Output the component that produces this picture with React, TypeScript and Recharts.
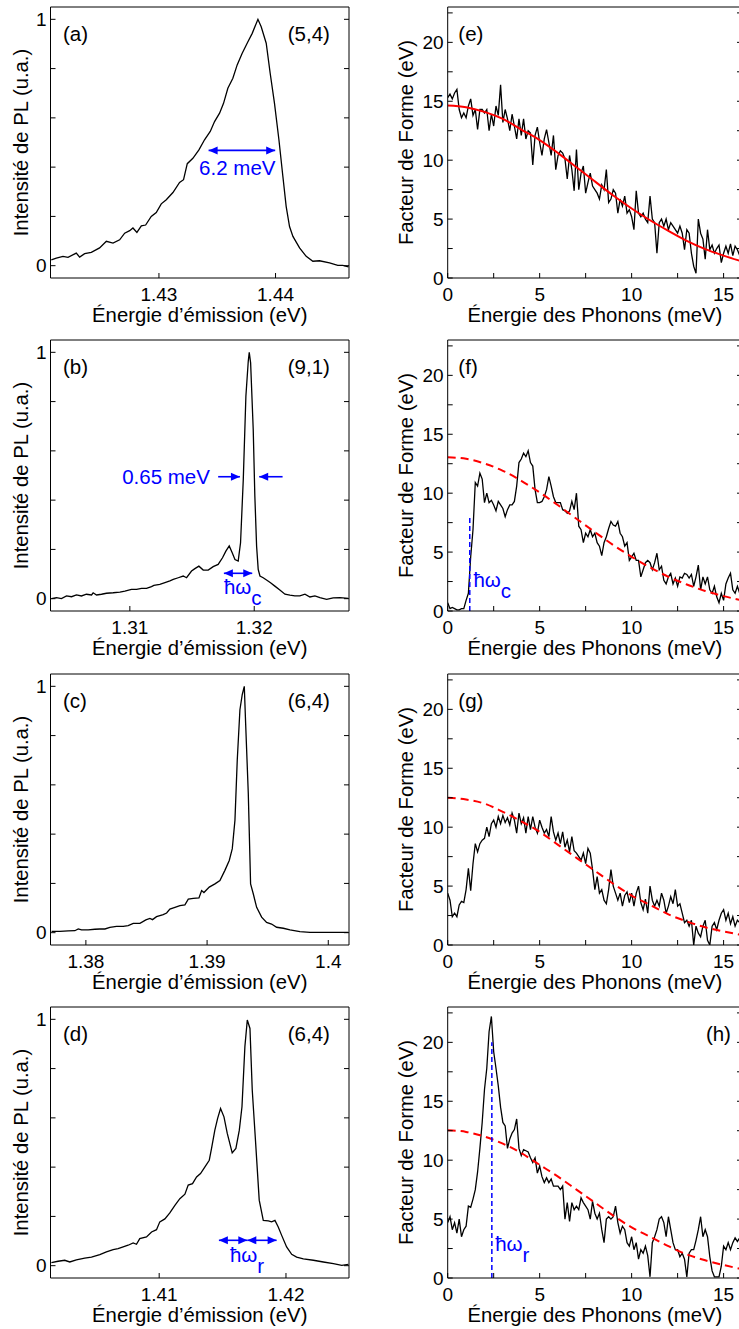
import React from 'react';
import { LineChart, Line, XAxis, YAxis, ReferenceLine, ReferenceDot } from 'recharts';

const FONT = '"Liberation Sans", Arial, Helvetica, sans-serif';
const BLUE = '#0000ff';
const RED = '#ff0000';

// ---- PL spectra (left column) ----
const energyA = [1.42077, 1.4212, 1.42177, 1.4222, 1.42291, 1.4232, 1.42363, 1.4242, 1.42491, 1.42549, 1.42606, 1.42663, 1.42706, 1.42749, 1.42777, 1.42811, 1.42849, 1.42886, 1.42934, 1.42977, 1.4302, 1.43063, 1.4312, 1.43177, 1.43211, 1.43243, 1.43291, 1.43343, 1.43391, 1.4344, 1.43477, 1.4352, 1.43554, 1.43591, 1.43634, 1.43671, 1.43714, 1.43763, 1.438, 1.43849, 1.43877, 1.4392, 1.43954, 1.43991, 1.44029, 1.44063, 1.44091, 1.4412, 1.44149, 1.44206, 1.44263, 1.4432, 1.44377, 1.44463, 1.44534, 1.44577, 1.44626];
const intensityA = [0.024, 0.031, 0.038, 0.034, 0.051, 0.035, 0.049, 0.054, 0.072, 0.099, 0.092, 0.105, 0.132, 0.142, 0.153, 0.135, 0.162, 0.165, 0.2, 0.216, 0.251, 0.268, 0.297, 0.338, 0.349, 0.414, 0.436, 0.47, 0.511, 0.545, 0.585, 0.619, 0.659, 0.72, 0.761, 0.815, 0.862, 0.909, 0.943, 1.0, 0.97, 0.903, 0.781, 0.659, 0.511, 0.362, 0.241, 0.159, 0.119, 0.072, 0.038, 0.018, 0.02, 0.011, 0.001, 0.001, -0.005];

const energyB = [1.3037, 1.3041, 1.3045, 1.30491, 1.30531, 1.30571, 1.30611, 1.30651, 1.30692, 1.30705, 1.30732, 1.30772, 1.30812, 1.30866, 1.3092, 1.3096, 1.31013, 1.31054, 1.31094, 1.31134, 1.31174, 1.31193, 1.31241, 1.31282, 1.31322, 1.31349, 1.31389, 1.31429, 1.31456, 1.31496, 1.31523, 1.31555, 1.3159, 1.3163, 1.3167, 1.3171, 1.31745, 1.31772, 1.31799, 1.31823, 1.31845, 1.31871, 1.3189, 1.31912, 1.31933, 1.31952, 1.3196, 1.31971, 1.31992, 1.32005, 1.32019, 1.32032, 1.32046, 1.32072, 1.32099, 1.32131, 1.32166, 1.32206, 1.32247, 1.32287, 1.32327, 1.32367, 1.32408, 1.32448, 1.32488, 1.32528, 1.32582, 1.32635, 1.32689, 1.32756];
const intensityB = [0, 0.004, 0, 0.011, 0.008, 0.015, 0.011, 0.018, 0.015, 0.024, 0.015, 0.018, 0.022, 0.024, 0.027, 0.031, 0.038, 0.038, 0.042, 0.042, 0.049, 0.054, 0.058, 0.065, 0.072, 0.078, 0.085, 0.092, 0.085, 0.112, 0.122, 0.132, 0.116, 0.116, 0.13, 0.139, 0.166, 0.193, 0.214, 0.186, 0.159, 0.153, 0.227, 0.484, 0.822, 0.964, 1.0, 0.957, 0.686, 0.416, 0.214, 0.119, 0.092, 0.085, 0.076, 0.065, 0.051, 0.035, 0.018, 0.014, 0.011, 0.011, 0.018, 0.007, 0.011, 0.004, -0.003, 0.003, 0.004, 0.001];

const energyC = [1.37717, 1.37785, 1.37854, 1.37909, 1.37937, 1.37964, 1.38019, 1.38074, 1.38116, 1.38157, 1.38198, 1.38253, 1.38308, 1.38349, 1.38391, 1.38446, 1.38495, 1.38528, 1.3855, 1.38583, 1.38638, 1.38666, 1.38693, 1.38735, 1.38776, 1.38817, 1.38845, 1.38886, 1.38933, 1.38955, 1.38974, 1.39018, 1.39065, 1.39106, 1.39147, 1.39183, 1.39208, 1.3923, 1.39249, 1.39271, 1.3929, 1.39307, 1.39318, 1.3934, 1.39359, 1.39381, 1.39409, 1.3945, 1.39491, 1.39532, 1.39574, 1.39629, 1.39684, 1.39766, 1.39849, 1.39931, 1.40041, 1.40165];
const intensityC = [0.005, 0.005, 0.007, 0.008, 0.015, 0.011, 0.011, 0.014, 0.015, 0.015, 0.022, 0.026, 0.026, 0.029, 0.038, 0.038, 0.052, 0.058, 0.053, 0.065, 0.073, 0.08, 0.096, 0.103, 0.11, 0.113, 0.136, 0.139, 0.141, 0.171, 0.163, 0.185, 0.198, 0.212, 0.253, 0.293, 0.341, 0.457, 0.701, 0.905, 0.966, 1.0, 0.851, 0.565, 0.198, 0.158, 0.103, 0.063, 0.042, 0.035, 0.022, 0.018, 0.011, 0.004, 0.001, 0.001, 0.001, 0.001];

const energyD = [1.4015, 1.40203, 1.40255, 1.40295, 1.40347, 1.40413, 1.40466, 1.40532, 1.40584, 1.40637, 1.40676, 1.40716, 1.40755, 1.40795, 1.40821, 1.40847, 1.409, 1.4094, 1.40979, 1.41005, 1.41045, 1.41084, 1.41124, 1.41163, 1.41203, 1.41229, 1.41263, 1.41295, 1.41326, 1.41361, 1.41395, 1.41413, 1.41439, 1.41461, 1.41484, 1.41511, 1.41537, 1.41576, 1.41605, 1.41632, 1.41653, 1.41676, 1.41695, 1.41716, 1.41734, 1.41761, 1.41789, 1.41821, 1.41861, 1.41887, 1.41913, 1.41939, 1.41966, 1.42005, 1.42045, 1.42084, 1.42137, 1.42216, 1.42295, 1.42374, 1.4244, 1.42492];
const intensityD = [0.012, 0.018, 0.022, 0.015, 0.024, 0.031, 0.035, 0.045, 0.056, 0.065, 0.069, 0.076, 0.083, 0.092, 0.087, 0.11, 0.117, 0.137, 0.146, 0.178, 0.19, 0.214, 0.245, 0.272, 0.29, 0.327, 0.333, 0.36, 0.374, 0.401, 0.428, 0.476, 0.55, 0.598, 0.638, 0.604, 0.537, 0.458, 0.476, 0.55, 0.645, 0.889, 0.997, 0.963, 0.713, 0.496, 0.266, 0.184, 0.182, 0.178, 0.184, 0.157, 0.123, 0.076, 0.046, 0.035, 0.028, 0.022, 0.015, 0.008, 0.001, 0.005];

// ---- form factors (right column) ----
const phononEnergy = [
  0, 0.125, 0.25, 0.375, 0.5, 0.625, 0.75, 0.875,
  1, 1.125, 1.25, 1.375, 1.5, 1.625, 1.75, 1.875,
  2, 2.125, 2.25, 2.375, 2.5, 2.625, 2.75, 2.875,
  3, 3.125, 3.25, 3.375, 3.5, 3.625, 3.75, 3.875,
  4, 4.125, 4.25, 4.375, 4.5, 4.625, 4.75, 4.875,
  5, 5.125, 5.25, 5.375, 5.5, 5.625, 5.75, 5.875,
  6, 6.125, 6.25, 6.375, 6.5, 6.625, 6.75, 6.875,
  7, 7.125, 7.25, 7.375, 7.5, 7.625, 7.75, 7.875,
  8, 8.125, 8.25, 8.375, 8.5, 8.625, 8.75, 8.875,
  9, 9.125, 9.25, 9.375, 9.5, 9.625, 9.75, 9.875,
  10, 10.125, 10.25, 10.375, 10.5, 10.625, 10.75, 10.875,
  11, 11.125, 11.25, 11.375, 11.5, 11.625, 11.75, 11.875,
  12, 12.125, 12.25, 12.375, 12.5, 12.625, 12.75, 12.875,
  13, 13.125, 13.25, 13.375, 13.5, 13.625, 13.75, 13.875,
  14, 14.125, 14.25, 14.375, 14.5, 14.625, 14.75, 14.875,
  15, 15.125, 15.25, 15.375, 15.5, 15.625, 15.75, 15.875,
  16,
];
const formE = [
  15.3, 15.6, 15.2, 15.7, 16.0, 14.3, 13.6, 14.0,
  13.6, 14.6, 15.2, 13.8, 14.3, 12.6, 14.3, 14.3,
  14.0, 14.3, 12.5, 13.9, 12.9, 14.6, 13.8, 16.4,
  13.2, 14.3, 13.5, 12.5, 13.9, 12.9, 11.8, 13.5,
  12.1, 13.5, 11.8, 12.5, 12.3, 9.6, 12.1, 12.8,
  11.5, 10.4, 11.8, 12.6, 11.5, 10.4, 12.1, 9.2,
  10.4, 10.8, 10.6, 10.1, 8.4, 10.4, 9.2, 7.4,
  10.9, 7.5, 8.9, 9.5, 7.2, 8.1, 8.9, 7.8,
  7.5, 7.2, 6.7, 7.9, 7.5, 9.2, 6.4, 6.7,
  7.5, 7.2, 5.5, 6.7, 6.1, 6.95, 5.5, 5.8,
  5.2, 4.1, 7.4, 5.5, 5.2, 5.5, 5.0, 4.7,
  6.95, 5.0, 4.7, 2.1, 4.7, 5.0, 4.4, 5.0,
  4.1, 4.7, 4.4, 4.1, 3.8, 4.4, 3.8, 2.4,
  4.1, 3.8, 2.1, 1.0, 0.4, 5.0, 3.8, 3.3,
  1.6, 4.1, 2.4, 2.8, 2.1, 2.5, 2.8, 1.3,
  2.1, 2.7, 2.1, 2.9, 1.9, 2.7, 2.4, 1.9,
  2.0,
];
const formF = [
  0.7, 0.2, 0.3, 0.2, 0.1, 0.1, 0.2, 0.2,
  0.9, 1.5, 4.6, 6.9, 10.9, 10.6, 11.7, 11.2,
  9.2, 10.0, 9.2, 9.4, 9.0, 8.5, 9.3, 9.0,
  8.7, 8.0, 8.6, 9.0, 9.0, 9.3, 10.6, 12.6,
  12.9, 13.4, 13.1, 13.6, 12.6, 12.3, 10.3, 9.2,
  9.2, 9.3, 9.7, 10.3, 11.4, 10.6, 9.7, 9.2,
  9.2, 9.2, 8.6, 8.5, 8.3, 8.5, 9.3, 8.6,
  10.0, 7.2, 6.9, 5.8, 6.6, 6.3, 6.9, 6.3,
  6.6, 5.8, 5.5, 4.7, 5.8, 6.3, 7.0, 7.6,
  7.3, 7.2, 7.6, 6.6, 6.3, 5.5, 5.8, 4.3,
  4.6, 4.9, 4.3, 4.3, 2.9, 3.5, 4.1, 4.3,
  4.1, 3.5, 4.1, 4.9, 3.5, 3.8, 2.6, 2.3,
  2.9, 3.2, 2.3, 2.8, 2.1, 2.9, 2.8, 3.2,
  3.1, 2.8, 3.1, 2.1, 2.9, 3.9, 1.8, 2.9,
  2.3, 2.9, 1.8, 1.5, 2.1, 1.2, 0.7, 1.5,
  0.9, 2.3, 2.8, 3.2, 1.8, 1.5, 2.1, 1.5,
  1.8,
];
const formG = [
  4.4, 3.8, 2.4, 2.7, 2.4, 3.4, 3.7, 3.6,
  4.7, 6.5, 4.6, 6.9, 8.6, 7.9, 8.6, 8.9,
  9.05, 10.0, 9.2, 10.3, 10.6, 10.0, 10.9, 10.3,
  11.0, 10.4, 10.8, 10.2, 11.2, 10.6, 9.5, 11.2,
  10.3, 10.8, 9.5, 10.9, 9.8, 10.9, 10.0, 9.5,
  10.6, 10.0, 9.5, 9.8, 9.2, 10.9, 9.6, 8.9,
  9.5, 8.6, 9.6, 8.3, 8.9, 7.9, 9.2, 8.0,
  7.8, 7.5, 7.2, 7.8, 6.9, 8.2, 7.8, 6.4,
  4.7, 5.8, 4.4, 4.7, 3.8, 3.5, 4.7, 6.4,
  5.0, 4.4, 3.8, 4.4, 3.3, 4.2, 4.5, 3.6,
  4.4, 3.3, 4.4, 5.0, 3.6, 3.0, 3.9, 2.7,
  5.0, 3.8, 3.3, 3.8, 3.3, 4.4, 3.8, 2.7,
  3.3, 4.1, 3.5, 4.7, 3.3, 3.5, 2.7, 1.9,
  2.1, 1.6, 2.1, 0.0, 1.6, 1.0, 0.7, 1.6,
  2.1, 0.4, 0.0, 1.6, 1.9, 1.3, 2.1, 2.7,
  3.0, 2.1, 2.7, 1.8, 2.4, 1.6, 2.1, 1.9,
  1.8,
];
const formH = [
  4.7, 5.2, 4.1, 4.7, 3.8, 5.0, 3.5, 4.1,
  4.4, 6.1, 6.0, 6.7, 7.5, 9.0, 11.0, 13.2,
  16.0, 17.8, 20.9, 22.2, 19.2, 17.8, 16.3, 14.5,
  13.2, 12.9, 11.0, 11.8, 12.3, 12.6, 13.5, 11.0,
  10.4, 10.9, 10.8, 10.7, 10.2, 9.8, 10.2, 8.9,
  9.5, 8.6, 8.1, 8.5, 8.1, 8.4, 7.8, 7.8,
  7.8, 7.5, 7.8, 5.0, 6.4, 4.8, 6.4, 5.8,
  6.1, 5.8, 6.8, 6.4, 6.1, 5.8, 5.0, 6.5,
  5.5, 5.0, 5.5, 4.1, 3.0, 5.0, 5.2, 5.0,
  5.2, 6.1, 4.7, 3.8, 4.4, 4.1, 3.0, 2.7,
  3.5, 2.4, 3.0, 1.6, 2.4, 2.1, 2.7, 1.9,
  0.1, 3.0, 3.5, 4.1, 5.0, 5.2, 4.7, 3.5,
  5.2, 4.1, 3.0, 2.4, 2.4, 1.8, 2.1, 1.6,
  0.1, 2.1, 2.4, 2.4, 3.2, 4.1, 5.2, 3.5,
  4.1, 3.5, 1.8, 0.6, 0.1, 0.1, 0.1, 1.0,
  2.7, 2.4, 3.0, 2.4, 3.0, 3.4, 3.1, 3.4,
  3.2,
];

// fits (read at integer meV)
const fitEnergy = [0, 1, 2, 3, 4, 5, 6, 7, 8, 9, 10, 11, 12, 13, 14, 15, 16];
const fitE = [14.65, 14.5, 14.1, 13.5, 12.6, 11.7, 10.6, 9.4, 8.2, 7.0, 5.9, 4.9, 4.0, 3.15, 2.45, 1.9, 1.4];
const fitF = [13.05, 12.92, 12.52, 11.9, 11.05, 10.06, 8.97, 7.83, 6.7, 5.6, 4.6, 3.7, 2.9, 2.25, 1.7, 1.26, 0.9];
const fitG = [12.5, 12.35, 12.0, 11.3, 10.5, 9.6, 8.5, 7.4, 6.3, 5.2, 4.2, 3.4, 2.6, 2.0, 1.5, 1.15, 0.85];
const fitH = [12.55, 12.4, 12.0, 11.4, 10.6, 9.6, 8.6, 7.5, 6.4, 5.3, 4.3, 3.5, 2.7, 2.0, 1.5, 1.1, 0.75];

const plTicks = [0, 0.2, 0.4, 0.6, 0.8, 1];
const ffTicks = [0, 2.5, 5, 7.5, 10, 12.5, 15, 17.5, 20, 22.5];
const phTicks = [0, 2.5, 5, 7.5, 10, 12.5, 15];

const ROW_TOPS = [0, 333, 667, 1000];

const zip = (xs: number[], ys: number[]) => xs.map((x, i) => ({ x, y: ys[i] }));

const tickFont = { fontSize: 19, fill: '#000', fontFamily: FONT };

interface AxisOpts {
  xDomain: number[];
  xTicks: number[];
  xFmt: (v: number) => string;
  yDomain: number[];
  yTicks: number[];
  yFmt: (v: number) => string;
  xTitle: string;
  yTitle: string;
  yWidth: number;
  yTitleDx: number;
}

const blank = () => '';

const frameAxes = (o: AxisOpts) => [
  <XAxis key="xb" type="number" dataKey="x" domain={o.xDomain} ticks={o.xTicks} tickFormatter={o.xFmt}
    allowDataOverflow interval={0} height={50} tickSize={-5} tickMargin={14.5} stroke="#000" tick={tickFont}
    label={{ value: o.xTitle, position: 'insideBottom', offset: 6, fontSize: 20.3, fill: '#000', fontFamily: FONT }} />,
  <XAxis key="xt" xAxisId="top" orientation="top" type="number" domain={o.xDomain} ticks={o.xTicks}
    tickFormatter={blank} allowDataOverflow interval={0} height={1} tickSize={-5} stroke="#000" />,
  <YAxis key="yl" type="number" domain={o.yDomain} ticks={o.yTicks} tickFormatter={o.yFmt}
    allowDataOverflow interval={0} width={o.yWidth} tickSize={-5} tickMargin={9} stroke="#000" tick={tickFont}
    label={{ value: o.yTitle, angle: -90, position: 'center', dx: o.yTitleDx, fontSize: 20.3, fill: '#000', fontFamily: FONT }} />,
  <YAxis key="yr" yAxisId="right" orientation="right" type="number" domain={o.yDomain} ticks={o.yTicks}
    tickFormatter={blank} allowDataOverflow interval={0} width={1} tickSize={-5} stroke="#000" />,
];

// text drawn at a data point
const textAt = (text: string, anchor: 'start' | 'middle' | 'end' = 'start', fill = '#000', sub?: string) =>
  (p: any) => (
    <text x={p.cx} y={p.cy} textAnchor={anchor} fill={fill} fontSize={20.5} fontFamily={FONT}>
      {text}
      {sub && <tspan dy={11}>{sub}</tspan>}
    </text>
  );

// blue arrow along a segment
const arrow = (both: boolean) => (p: any) => {
  const { x1, y1, x2, y2 } = p;
  const d = Math.sign(x2 - x1) || 1;
  const L = 9;
  const W = 4;
  const head = (x: number, y: number, s: number) => `${x},${y} ${x - s * L},${y - W} ${x - s * L},${y + W}`;
  return (
    <g>
      <line x1={x1} y1={y1} x2={x2} y2={y2} stroke={BLUE} strokeWidth={1.6} />
      <polygon points={head(x2, y2, d)} fill={BLUE} />
      {both && <polygon points={head(x1, y1, -d)} fill={BLUE} />}
    </g>
  );
};

function PLPanel({ top, energy, intensity, xDomain, xTicks, tag, tube, children }: any) {
  const [x0, x1] = xDomain;
  return (
    <div style={{ position: 'absolute', left: 0, top }}>
      <LineChart width={360} height={328} margin={{ top: 6, right: 10, bottom: 0, left: 0 }}>
        {frameAxes({
          xDomain, xTicks, xFmt: (v) => String(v),
          yDomain: [-0.05, 1.05], yTicks: plTicks, yFmt: (v) => (v === 0 || v === 1 ? String(v) : ''),
          xTitle: 'Énergie d’émission (eV)', yTitle: 'Intensité de PL (u.a.)', yWidth: 50.5, yTitleDx: -4,
        })}
        <Line data={zip(energy, intensity)} dataKey="y" type="linear" stroke="#000" strokeWidth={1.3}
          dot={false} activeDot={false} isAnimationActive={false} />
        <ReferenceDot x={x0 + 0.042 * (x1 - x0)} y={0.912} r={0} shape={textAt(tag)} />
        <ReferenceDot x={x0 + 0.936 * (x1 - x0)} y={0.912} r={0} shape={textAt(tube, 'end')} />
        {children}
      </LineChart>
    </div>
  );
}

function FFPanel({ top, form, fit, dashed, tag, tagRight, children }: any) {
  return (
    <div style={{ position: 'absolute', left: 370, top }}>
      <LineChart width={383} height={328} margin={{ top: 6, right: 10, bottom: 0, left: 0 }}>
        {frameAxes({
          xDomain: [0, 16], xTicks: phTicks, xFmt: (v) => (v % 5 === 0 ? String(v) : ''),
          yDomain: [0, 23], yTicks: ffTicks, yFmt: (v) => (v % 5 === 0 ? String(v) : ''),
          xTitle: 'Énergie des Phonons (meV)', yTitle: 'Facteur de Forme (eV)', yWidth: 77.7, yTitleDx: -3,
        })}
        <Line data={zip(phononEnergy, form)} dataKey="y" type="linear" stroke="#000" strokeWidth={1.3}
          dot={false} activeDot={false} isAnimationActive={false} />
        <Line data={zip(fitEnergy, fit)} dataKey="y" type="monotone" stroke={RED} strokeWidth={2}
          strokeDasharray={dashed ? '8 5' : undefined} dot={false} activeDot={false} isAnimationActive={false} />
        {tagRight
          ? <ReferenceDot x={15.4} y={20.1} r={0} shape={textAt(tag, 'end')} />
          : <ReferenceDot x={0.58} y={20.1} r={0} shape={textAt(tag)} />}
        {children}
      </LineChart>
    </div>
  );
}

export default function App() {
  return (
    <div style={{ position: 'absolute', left: 0, top: 0, width: 739, height: 1329, overflow: 'hidden', background: '#fff', fontFamily: FONT }}>
      <PLPanel top={ROW_TOPS[0]} energy={energyA} intensity={intensityA} xDomain={[1.4207, 1.4463]} xTicks={[1.43, 1.44]} tag="(a)" tube="(5,4)">
        <ReferenceLine segment={[{ x: 1.43426, y: 0.468 }, { x: 1.43997, y: 0.468 }]} shape={arrow(true)} />
        <ReferenceDot x={1.43672} y={0.369} r={0} shape={textAt('6.2 meV', 'middle', BLUE)} />
      </PLPanel>
      <PLPanel top={ROW_TOPS[1]} energy={energyB} intensity={intensityB} xDomain={[1.30362, 1.32762]} xTicks={[1.31, 1.32]} tag="(b)" tube="(9,1)">
        <ReferenceLine segment={[{ x: 1.3171, y: 0.495 }, { x: 1.31885, y: 0.495 }]} shape={arrow(false)} />
        <ReferenceLine segment={[{ x: 1.32228, y: 0.495 }, { x: 1.3204, y: 0.495 }]} shape={arrow(false)} />
        <ReferenceDot x={1.31644} y={0.4635} r={0} shape={textAt('0.65 meV', 'end', BLUE)} />
        <ReferenceLine segment={[{ x: 1.31756, y: 0.103 }, { x: 1.31984, y: 0.103 }]} shape={arrow(true)} />
        <ReferenceDot x={1.31756} y={0.017} r={0} shape={textAt('ħω', 'start', BLUE, 'c')} />
      </PLPanel>
      <PLPanel top={ROW_TOPS[2]} energy={energyC} intensity={intensityC} xDomain={[1.37708, 1.40171]} xTicks={[1.38, 1.39, 1.4]} tag="(c)" tube="(6,4)" />
      <PLPanel top={ROW_TOPS[3]} energy={energyD} intensity={intensityD} xDomain={[1.40143, 1.42497]} xTicks={[1.41, 1.42]} tag="(d)" tube="(6,4)">
        <ReferenceLine segment={[{ x: 1.41471, y: 0.103 }, { x: 1.41695, y: 0.103 }]} shape={arrow(true)} />
        <ReferenceLine segment={[{ x: 1.41695, y: 0.103 }, { x: 1.41926, y: 0.103 }]} shape={arrow(true)} />
        <ReferenceDot x={1.41558} y={0.015} r={0} shape={textAt('ħω', 'start', BLUE, 'r')} />
      </PLPanel>

      <FFPanel top={ROW_TOPS[0]} form={formE} fit={fitE} dashed={false} tag="(e)" />
      <FFPanel top={ROW_TOPS[1]} form={formF} fit={fitF} dashed tag="(f)">
        <ReferenceLine segment={[{ x: 1.2, y: 0 }, { x: 1.2, y: 7.9 }]} stroke={BLUE} strokeWidth={1.5} strokeDasharray="5 3" />
        <ReferenceDot x={1.4} y={2.07} r={0} shape={textAt('ħω', 'start', BLUE, 'c')} />
      </FFPanel>
      <FFPanel top={ROW_TOPS[2]} form={formG} fit={fitG} dashed tag="(g)" />
      <FFPanel top={ROW_TOPS[3]} form={formH} fit={fitH} dashed tag="(h)" tagRight>
        <ReferenceLine segment={[{ x: 2.4, y: 0 }, { x: 2.4, y: 20 }]} stroke={BLUE} strokeWidth={1.5} strokeDasharray="5 3" />
        <ReferenceDot x={2.58} y={2.26} r={0} shape={textAt('ħω', 'start', BLUE, 'r')} />
      </FFPanel>
    </div>
  );
}
